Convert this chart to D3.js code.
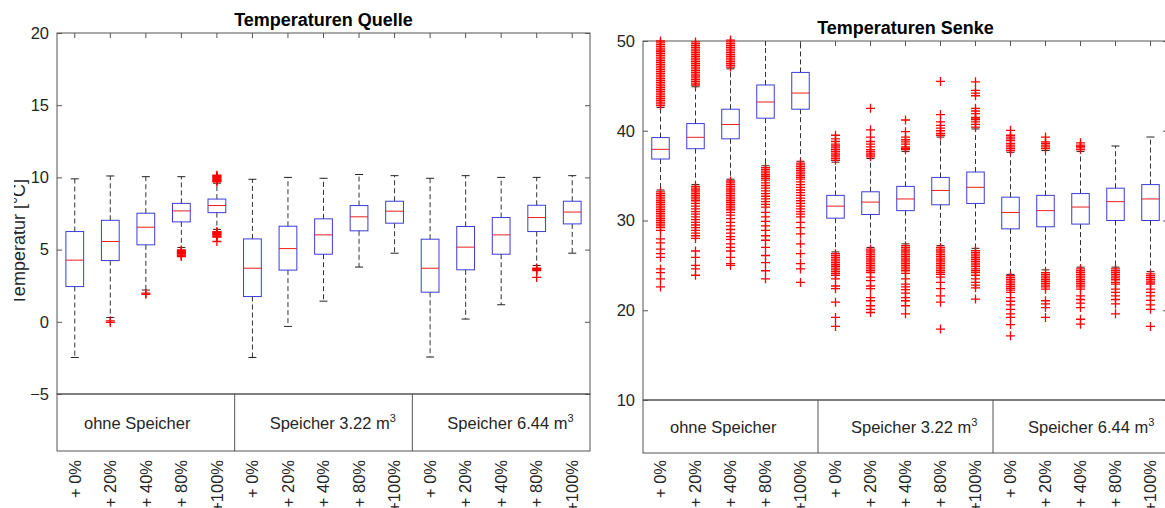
<!DOCTYPE html>
<html lang="de">
<head>
<meta charset="UTF-8">
<title>Temperaturen Quelle / Senke</title>
<script src="https://d3js.org/d3.v7.min.js"></script>
<style>
  body { margin: 0; background: #fff; }
  svg text { font-family: "Liberation Sans", Arial, Helvetica, sans-serif; }
</style>
</head>
<body>
<svg id="chart" width="1165" height="508"></svg>
<script>
// x categories (5 loads per storage variant)
var categories = ["+ 0%", "+ 20%", "+ 40%", "+ 80%", "+100%",
                  "+ 0%", "+ 20%", "+ 40%", "+ 80%", "+100%",
                  "+ 0%", "+ 20%", "+ 40%", "+ 80%", "+100%"];
var groupNames = ["ohne Speicher", "Speicher 3.22 m", "Speicher 6.44 m"];
var groupSup = ["", "3", "3"];

// --- Temperaturen Quelle ---
var quelleTicks = [-5, 0, 5, 10, 15, 20];
var quelleQ1  = [2.44, 4.24, 5.33, 6.92, 7.56, 1.75, 3.58, 4.68, 6.30, 6.83, 2.05, 3.60, 4.68, 6.25, 6.78];
var quelleMed = [4.27, 5.56, 6.55, 7.68, 8.05, 3.71, 5.07, 6.02, 7.27, 7.66, 3.71, 5.17, 6.02, 7.22, 7.60];
var quelleQ3  = [6.25, 7.03, 7.52, 8.20, 8.50, 5.74, 6.62, 7.13, 8.05, 8.35, 5.72, 6.60, 7.22, 8.07, 8.35];
var quelleLo  = [-2.47, 0.30, 2.20, 5.15, 6.40, -2.47, -0.32, 1.43, 3.79, 4.75, -2.44, 0.19, 1.18, 3.90, 4.75];
var quelleHi  = [9.90, 10.10, 10.05, 10.05, 9.60, 9.87, 10.00, 9.94, 10.20, 10.12, 9.94, 10.12, 10.00, 10.00, 10.12];
var quelleOut = [
  [],
  [0.06, -0.04],
  [1.98, 1.90],
  [4.98, 4.92, 4.86, 4.80, 4.74, 4.68, 4.62, 4.56, 4.52],
  [10.15, 10.10, 10.05, 10.00, 9.95, 9.90, 9.85, 9.80, 9.75, 9.70,
   6.25, 6.20, 6.15, 6.10, 6.05, 6.00, 5.95, 5.90, 5.86, 5.56],
  [], [], [], [], [], [], [], [],
  [3.71, 3.64, 3.55, 3.07],
  []
];

// --- Temperaturen Senke ---
var senkeTicks = [10, 20, 30, 40, 50];
var senkeQ1  = [36.85, 38.00, 39.10, 41.40, 42.40, 30.26, 30.67, 31.10, 31.75, 31.90, 29.07, 29.30, 29.60, 30.00, 30.00];
var senkeMed = [37.93, 39.27, 40.70, 43.20, 44.20, 31.60, 32.05, 32.40, 33.35, 33.70, 30.90, 31.10, 31.50, 32.10, 32.40];
var senkeQ3  = [39.24, 40.80, 42.40, 45.10, 46.50, 32.80, 33.20, 33.80, 34.80, 35.40, 32.60, 32.80, 33.00, 33.60, 34.00];
var senkeLo  = [33.40, 34.00, 34.60, 36.10, 36.60, 26.50, 27.00, 27.40, 27.20, 26.90, 24.00, 24.50, 24.80, 24.80, 24.30];
var senkeHi  = [42.60, 44.90, 46.90, 51.00, 51.00, 36.50, 36.90, 37.70, 39.30, 40.20, 37.60, 37.80, 37.70, 38.30, 39.30];
var senkeOut = [
  [42.8, 43.0, 43.2, 43.4, 43.6, 43.8, 44.0, 44.2, 44.4, 44.6, 44.8, 45.0, 45.2, 45.4, 45.6, 45.8, 46.0,
   46.2, 46.4, 46.6, 46.8, 47.0, 47.2, 47.4, 47.6, 47.8, 48.0, 48.2, 48.4, 48.6, 48.8, 49.0, 49.2, 49.4,
   49.6, 49.8, 50.0,
   33.2, 33.0, 32.8, 32.6, 32.4, 32.2, 32.0, 31.8, 31.6, 31.4, 31.2, 31.0, 30.8, 30.6, 30.4, 30.2, 30.0,
   29.8, 29.6, 29.4, 29.2, 28.9, 27.95, 27.5, 26.8, 26.3, 25.9, 24.6, 24.2, 23.5, 22.6],
  [45.1, 45.3, 45.5, 45.7, 45.9, 46.1, 46.3, 46.5, 46.7, 46.9, 47.1, 47.3, 47.5, 47.7, 47.9, 48.1, 48.3,
   48.5, 48.7, 48.9, 49.1, 49.3, 49.5, 49.7, 49.9,
   33.8, 33.6, 33.4, 33.2, 33.0, 32.8, 32.6, 32.4, 32.2, 31.9, 31.6, 31.3, 31.0, 30.7, 30.4, 30.1, 29.8,
   29.5, 29.2, 28.9, 28.6, 28.3, 28.0, 26.6, 25.9, 25.0, 24.6, 23.9],
  [47.1, 47.3, 47.5, 47.7, 47.9, 48.1, 48.3, 48.5, 48.7, 48.9, 49.1, 49.3, 49.5, 49.7, 49.9, 50.1,
   34.4, 34.2, 34.0, 33.8, 33.6, 33.4, 33.2, 33.0, 32.8, 32.6, 32.4, 32.2, 32.0, 31.8, 31.6, 31.4, 31.2,
   30.9, 30.6, 30.2, 29.8, 29.4, 29.0, 28.6, 28.2, 27.9, 27.4, 27.0, 26.6, 25.9, 25.2, 25.0],
  [35.9, 35.7, 35.5, 35.3, 35.1, 34.9, 34.7, 34.5, 34.2, 33.9, 33.6, 33.3, 33.0, 32.7, 32.4, 32.1, 31.8,
   31.5, 30.9, 30.4, 29.9, 29.4, 28.9, 28.3, 27.8, 27.0, 26.1, 25.3, 24.4, 23.5],
  [36.4, 36.2, 36.0, 35.8, 35.6, 35.4, 35.2, 35.0, 34.8, 34.6, 34.3, 34.0, 33.7, 33.4, 33.1, 32.8, 32.5,
   32.2, 31.9, 31.6, 31.3, 31.0, 30.7, 30.4, 29.8, 29.2, 28.5, 27.4, 26.3, 25.2, 24.6, 23.1],
  [36.7, 36.9, 37.1, 37.3, 37.5, 37.7, 37.9, 38.1, 38.3, 38.5, 38.8, 39.1, 39.5,
   26.3, 26.1, 25.9, 25.7, 25.5, 25.3, 25.1, 24.9, 24.7, 24.5, 24.3, 24.1, 23.9, 23.5, 22.7, 22.4, 20.9,
   19.2, 18.2],
  [37.1, 37.3, 37.5, 37.7, 37.9, 38.2, 38.5, 38.8, 39.3, 40.1, 42.5,
   26.8, 26.6, 26.4, 26.2, 26.0, 25.8, 25.6, 25.4, 25.2, 25.0, 24.8, 24.6, 24.4, 24.2, 23.7, 23.3, 22.7,
   22.4, 21.4, 21.06, 20.5, 20.1, 19.75],
  [37.9, 38.05, 38.2, 38.5, 38.75, 39.0, 39.3, 39.9, 41.2,
   27.2, 27.0, 26.8, 26.6, 26.4, 26.2, 26.0, 25.8, 25.6, 25.4, 25.2, 25.0, 24.8, 24.6, 24.4, 24.1, 23.5,
   22.9, 22.6, 22.3, 21.9, 21.4, 21.06, 20.5, 19.6],
  [39.5, 39.7, 40.0, 40.3, 40.6, 41.0, 41.8, 45.5,
   27.0, 26.8, 26.6, 26.4, 26.2, 26.0, 25.8, 25.6, 25.4, 25.2, 25.0, 24.8, 24.6, 24.4, 24.2, 24.0, 23.7,
   23.1, 22.4, 21.6, 20.9, 17.9],
  [40.4, 40.7, 41.0, 41.25, 41.4, 41.5, 41.9, 42.2, 42.5, 43.9, 44.2, 44.5, 45.45,
   26.65, 26.45, 26.25, 26.05, 25.85, 25.65, 25.45, 25.25, 25.05, 24.85, 24.6, 24.4, 24.2, 23.9, 23.5,
   23.1, 22.8, 22.5, 21.25],
  [37.8, 38.0, 38.2, 38.4, 38.6, 38.9, 39.1, 39.3, 39.5, 40.05,
   23.85, 23.65, 23.45, 23.25, 23.05, 22.85, 22.65, 22.45, 22.25, 22.0, 21.4, 21.0, 20.6, 20.1, 19.6,
   19.2, 18.4, 17.15],
  [38.0, 38.2, 38.4, 38.6, 38.75, 39.3,
   24.2, 24.0, 23.8, 23.6, 23.4, 23.2, 23.0, 22.8, 22.6, 22.35, 21.06, 20.7, 20.3, 19.2],
  [37.9, 38.1, 38.25, 38.4, 38.65,
   24.6, 24.4, 24.2, 24.0, 23.8, 23.6, 23.4, 23.2, 23.0, 22.8, 22.6, 22.35, 21.6, 21.2, 20.8, 20.3,
   19.0, 18.45],
  [24.6, 24.4, 24.2, 24.0, 23.8, 23.6, 23.4, 23.1, 22.9, 22.35, 22.0, 21.6, 21.2, 20.7, 19.6],
  [24.05, 23.85, 23.65, 23.45, 23.25, 23.05, 22.9, 22.35, 22.0, 21.6, 21.1, 20.6, 20.1, 18.2]
];

var svg = d3.select("#chart");
var axisColor = "#555";
var textColor = "#262626";
var fontSize = 16.5;

function drawPanel(p, q1, med, q3, lo, hi, out) {
    var g = svg.append("g");
    var x = d3.scaleBand().domain(d3.range(categories.length)).range([p.x0, p.x1]);
    var y = d3.scaleLinear().domain(p.domain).range([p.yBot, p.yTop]);
    var bw = x.bandwidth() * 0.5;
    var cx = function(i) { return x(i) + x.bandwidth() / 2; };

    // clip so whiskers stop at the frame
    svg.append("clipPath").attr("id", "clip-" + p.id)
        .append("rect")
        .attr("x", p.x0).attr("y", p.yTop)
        .attr("width", p.x1 - p.x0).attr("height", p.yBot - p.yTop);

    // frame + ticks (inside)
    g.append("rect")
        .attr("x", p.x0).attr("y", p.yTop)
        .attr("width", p.x1 - p.x0).attr("height", p.yBot - p.yTop)
        .attr("fill", "none").attr("stroke", axisColor);

    var left = g.append("g")
        .attr("transform", "translate(" + p.x0 + ",0)")
        .call(d3.axisLeft(y).tickValues(p.ticks).tickSize(-5).tickPadding(8));
    left.select(".domain").remove();
    left.selectAll("line").attr("stroke", axisColor);
    left.selectAll("text").attr("font-size", fontSize).attr("fill", textColor);
    left.attr("font-family", null);

    var right = g.append("g")
        .attr("transform", "translate(" + p.x1 + ",0)")
        .call(d3.axisRight(y).tickValues(p.ticks).tickSize(-5).tickFormat(""));
    right.select(".domain").remove();
    right.selectAll("line").attr("stroke", axisColor);

    var top = g.append("g")
        .attr("transform", "translate(0," + p.yTop + ")")
        .call(d3.axisTop(x).tickSize(-5).tickFormat(""));
    top.select(".domain").remove();
    top.selectAll("line").attr("stroke", axisColor);

    // title
    g.append("text")
        .attr("x", (p.x0 + p.x1) / 2).attr("y", p.titleY)
        .attr("text-anchor", "middle")
        .attr("font-size", 18).attr("font-weight", "bold")
        .attr("fill", "#000")
        .text(p.title);

    // group box below the plot
    g.append("rect")
        .attr("x", p.x0).attr("y", p.yBot)
        .attr("width", p.x1 - p.x0).attr("height", p.catBot - p.yBot)
        .attr("fill", "none").attr("stroke", axisColor);
    [5, 10].forEach(function(k) {
        g.append("line")
            .attr("x1", x(k)).attr("x2", x(k))
            .attr("y1", p.yBot).attr("y2", p.catBot)
            .attr("stroke", axisColor);
    });
    groupNames.forEach(function(name, k) {
        var t = g.append("text")
            .attr("x", x(k * 5) + p.groupOffset[k])
            .attr("y", (p.yBot + p.catBot) / 2 + 6)
            .attr("font-size", fontSize).attr("fill", textColor)
            .text(name);
        if (groupSup[k]) {
            t.append("tspan").attr("dy", -7).attr("font-size", 11).text(groupSup[k]);
        }
    });

    // rotated category labels
    var bottom = g.append("g")
        .attr("transform", "translate(0," + p.catBot + ")")
        .call(d3.axisBottom(x).tickSize(0).tickFormat(function(i) { return categories[i]; }));
    bottom.select(".domain").remove();
    bottom.selectAll("text")
        .attr("transform", "rotate(-90)")
        .attr("text-anchor", "end")
        .attr("x", -p.labelPad).attr("y", 0).attr("dy", "0.35em")
        .attr("font-size", fontSize).attr("fill", textColor);
    bottom.attr("font-family", null);

    var idx = d3.range(categories.length);

    // whiskers
    var wg = g.append("g").attr("clip-path", "url(#clip-" + p.id + ")");
    wg.selectAll(".wu").data(idx).join("line")
        .attr("x1", cx).attr("x2", cx)
        .attr("y1", function(i) { return y(q3[i]); })
        .attr("y2", function(i) { return y(hi[i]); })
        .attr("stroke", "#333").attr("stroke-dasharray", "5,3");
    wg.selectAll(".wl").data(idx).join("line")
        .attr("x1", cx).attr("x2", cx)
        .attr("y1", function(i) { return y(q1[i]); })
        .attr("y2", function(i) { return y(lo[i]); })
        .attr("stroke", "#333").attr("stroke-dasharray", "5,3");
    [hi, lo].forEach(function(arr) {
        wg.append("g").selectAll("line").data(idx).join("line")
            .attr("x1", function(i) { return cx(i) - 4; })
            .attr("x2", function(i) { return cx(i) + 4; })
            .attr("y1", function(i) { return y(arr[i]); })
            .attr("y2", function(i) { return y(arr[i]); })
            .attr("stroke", "#222");
    });

    // boxes
    g.append("g").selectAll("rect").data(idx).join("rect")
        .attr("x", function(i) { return cx(i) - bw / 2; })
        .attr("y", function(i) { return y(q3[i]); })
        .attr("width", bw)
        .attr("height", function(i) { return y(q1[i]) - y(q3[i]); })
        .attr("fill", "none").attr("stroke", "#3c3cd8");
    g.append("g").selectAll("line").data(idx).join("line")
        .attr("x1", function(i) { return cx(i) - bw / 2; })
        .attr("x2", function(i) { return cx(i) + bw / 2; })
        .attr("y1", function(i) { return y(med[i]); })
        .attr("y2", function(i) { return y(med[i]); })
        .attr("stroke", "#f01c1c");

    // outliers as red "+"
    var pts = [];
    idx.forEach(function(i) { out[i].forEach(function(v) { pts.push({ i: i, v: v }); }); });
    g.append("g").selectAll("path").data(pts).join("path")
        .attr("transform", function(d) { return "translate(" + cx(d.i) + "," + y(d.v) + ")"; })
        .attr("d", "M-4.5,0H4.5M0,-4.5V4.5")
        .attr("stroke", "#ff0000").attr("stroke-width", 1.3).attr("fill", "none");
}

drawPanel({ id: "q", x0: 57, x1: 590, yTop: 33, yBot: 394, catBot: 451,
            domain: [-5, 20], ticks: quelleTicks, title: "Temperaturen Quelle", titleY: 26,
            groupOffset: [27, 35, 35], labelPad: 9 },
          quelleQ1, quelleMed, quelleQ3, quelleLo, quelleHi, quelleOut);

drawPanel({ id: "s", x0: 643, x1: 1168, yTop: 41, yBot: 400, catBot: 453,
            domain: [10, 50], ticks: senkeTicks, title: "Temperaturen Senke", titleY: 34,
            groupOffset: [27, 33, 35], labelPad: 7 },
          senkeQ1, senkeMed, senkeQ3, senkeLo, senkeHi, senkeOut);

// y label of the left panel, partly cut at the page edge
svg.append("clipPath").attr("id", "clip-ylabel")
    .append("rect").attr("x", 14).attr("y", 0).attr("width", 40).attr("height", 508);
svg.append("g")
    .attr("clip-path", "url(#clip-ylabel)")
    .append("text")
    .attr("transform", "translate(25,242) rotate(-90)")
    .attr("text-anchor", "middle")
    .attr("font-size", 18).attr("fill", textColor)
    .text("Temperatur [°C]");
</script>
</body>
</html>
